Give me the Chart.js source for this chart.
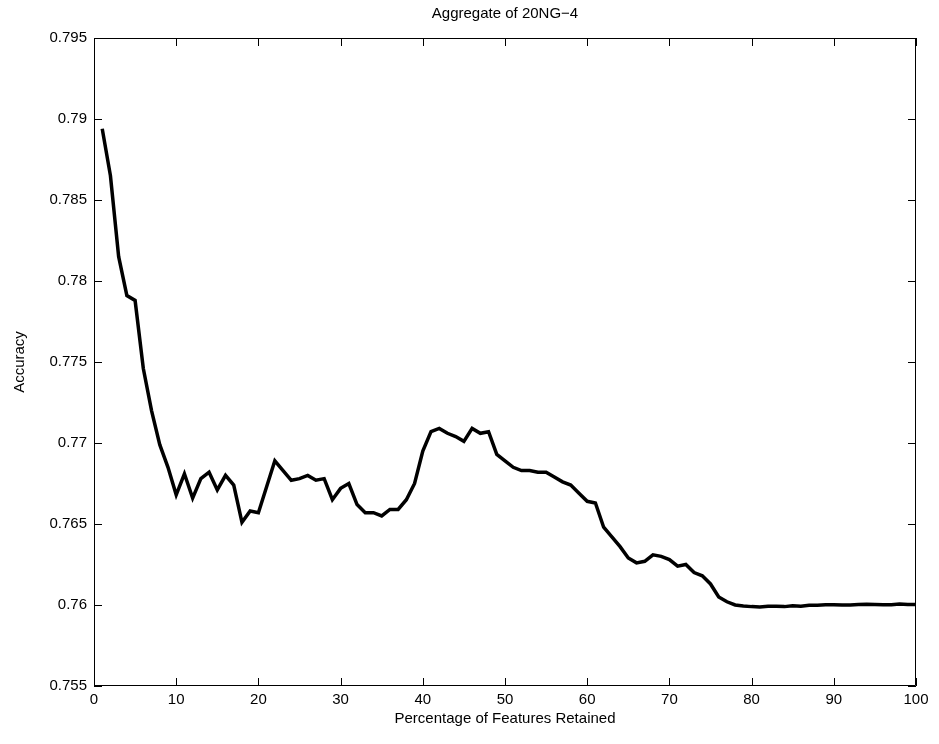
<!DOCTYPE html>
<html>
<head>
<meta charset="utf-8">
<script src="https://cdn.jsdelivr.net/npm/chart.js@4/dist/chart.umd.min.js"></script>
<style>
html, body { margin: 0; padding: 0; background: #fff; }
#wrap { width: 939px; height: 744px; position: relative; }
</style>
</head>
<body>
<div id="wrap"><canvas id="accChart"></canvas></div>
<script>
let percent = [
    1, 2, 3, 4, 5, 6, 7, 8, 9, 10,
    11, 12, 13, 14, 15, 16, 17, 18, 19, 20,
    21, 22, 23, 24, 25, 26, 27, 28, 29, 30,
    31, 32, 33, 34, 35, 36, 37, 38, 39, 40,
    41, 42, 43, 44, 45, 46, 47, 48, 49, 50,
    51, 52, 53, 54, 55, 56, 57, 58, 59, 60,
    61, 62, 63, 64, 65, 66, 67, 68, 69, 70,
    71, 72, 73, 74, 75, 76, 77, 78, 79, 80,
    81, 82, 83, 84, 85, 86, 87, 88, 89, 90,
    91, 92, 93, 94, 95, 96, 97, 98, 99, 100
];
let accuracy = [
    0.7894, 0.7865, 0.7815, 0.7791, 0.7788, 0.7746, 0.7720, 0.7699, 0.7685, 0.7668,
    0.7681, 0.7666, 0.7678, 0.7682, 0.7671, 0.7680, 0.7674, 0.7651, 0.7658, 0.7657,
    0.7673, 0.7689, 0.7683, 0.7677, 0.7678, 0.7680, 0.7677, 0.7678, 0.7665, 0.7672,
    0.7675, 0.7662, 0.7657, 0.7657, 0.7655, 0.7659, 0.7659, 0.7665, 0.7675, 0.7695,
    0.7707, 0.7709, 0.7706, 0.7704, 0.7701, 0.7709, 0.7706, 0.7707, 0.7693, 0.7689,
    0.7685, 0.7683, 0.7683, 0.7682, 0.7682, 0.7679, 0.7676, 0.7674, 0.7669, 0.7664,
    0.7663, 0.7648, 0.7642, 0.7636, 0.7629, 0.7626, 0.7627, 0.7631, 0.7630, 0.7628,
    0.7624, 0.7625, 0.7620, 0.7618, 0.7613, 0.7605, 0.7602, 0.7600, 0.75994, 0.7599,
    0.75988, 0.75993, 0.75992, 0.7599, 0.75995, 0.75993, 0.75998, 0.75999, 0.76001, 0.76002,
    0.7600, 0.7600, 0.76003, 0.76004, 0.76003, 0.76001, 0.76002, 0.76006, 0.76003, 0.76003
];
let xTicks = [0, 10, 20, 30, 40, 50, 60, 70, 80, 90, 100];
let yTicks = [0.755, 0.76, 0.765, 0.77, 0.775, 0.78, 0.785, 0.79, 0.795];

let titleText = 'Aggregate of 20NG\u22124';
let fontFamily = '"Liberation Sans", Arial, Helvetica, sans-serif';
let fontSize = 15;

Chart.defaults.font.family = fontFamily;
Chart.defaults.color = '#000';

// box around the plot, inward ticks on all four sides, title over the plot
let matlabFrame = {
    id: 'matlabFrame',
    afterDraw(chart) {
        let c = chart.ctx;
        let a = chart.chartArea;
        let xs = chart.scales.x;
        let ys = chart.scales.y;
        let len = 8;
        c.save();
        c.strokeStyle = '#000';
        c.lineWidth = 1;
        c.beginPath();
        c.rect(a.left + 0.5, a.top + 0.5, a.right - a.left - 1, a.bottom - a.top - 1);
        xTicks.forEach((t) => {
            let px = Math.round(xs.getPixelForValue(t)) + 0.5;
            c.moveTo(px, a.bottom);
            c.lineTo(px, a.bottom - len);
            c.moveTo(px, a.top);
            c.lineTo(px, a.top + len);
        });
        yTicks.forEach((t) => {
            let py = Math.round(ys.getPixelForValue(t)) + 0.5;
            c.moveTo(a.left, py);
            c.lineTo(a.left + len, py);
            c.moveTo(a.right, py);
            c.lineTo(a.right - len, py);
        });
        c.stroke();
        c.fillStyle = '#000';
        c.font = fontSize + 'px ' + fontFamily;
        c.textAlign = 'center';
        c.textBaseline = 'middle';
        c.fillText(titleText, (a.left + a.right) / 2, 14);
        c.restore();
    }
};

let myChart = new Chart(document.getElementById('accChart'), {
    type: 'line',
    data: {
        datasets: [{
            data: percent.map((p, i) => ({ x: p, y: accuracy[i] })),
            borderColor: '#000',
            borderWidth: 3.5,
            pointRadius: 0,
            tension: 0,
            fill: false
        }]
    },
    options: {
        responsive: true,
        maintainAspectRatio: false,
        animation: false,
        layout: {
            padding: { top: 38, right: 23, bottom: 0, left: 0 }
        },
        plugins: {
            legend: { display: false },
            tooltip: { enabled: false }
        },
        scales: {
            x: {
                type: 'linear',
                min: 0,
                max: 100,
                afterBuildTicks: (scale) => {
                    scale.ticks = xTicks.map((v) => ({ value: v }));
                },
                afterFit: (scale) => {
                    scale.height = 58;
                },
                grid: { display: false, tickLength: 0 },
                border: { display: false },
                ticks: {
                    padding: 5,
                    maxRotation: 0,
                    autoSkip: false,
                    font: { size: fontSize }
                },
                title: {
                    display: true,
                    text: 'Percentage of Features Retained',
                    font: { size: fontSize },
                    padding: { top: 0, bottom: 16 }
                }
            },
            y: {
                type: 'linear',
                min: 0.755,
                max: 0.795,
                afterBuildTicks: (scale) => {
                    scale.ticks = yTicks.map((v) => ({ value: v }));
                },
                afterFit: (scale) => {
                    scale.width = 94;
                },
                grid: { display: false, tickLength: 0 },
                border: { display: false },
                ticks: {
                    padding: 7,
                    autoSkip: false,
                    font: { size: fontSize },
                    callback: (value) => parseFloat(value.toFixed(3)).toString()
                },
                title: {
                    display: true,
                    text: 'Accuracy',
                    font: { size: fontSize },
                    padding: { top: 11, bottom: 0 }
                }
            }
        }
    },
    plugins: [matlabFrame]
});
</script>
</body>
</html>
